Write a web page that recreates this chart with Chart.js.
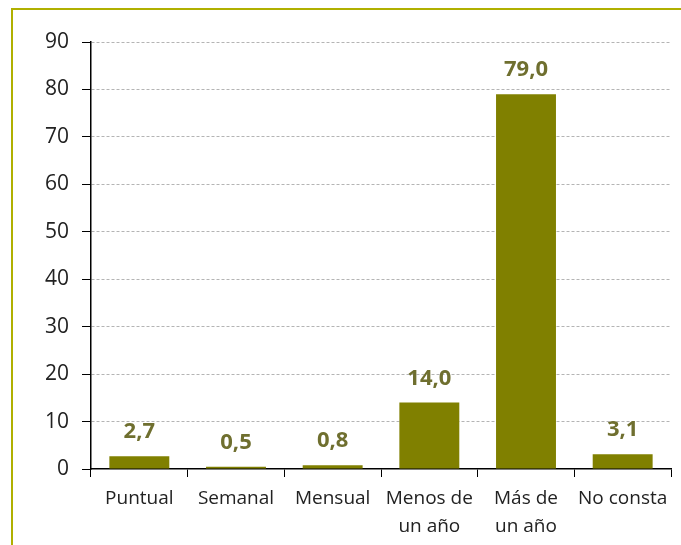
<!DOCTYPE html>
<html>
<head>
<meta charset="utf-8">
<script src="https://cdn.jsdelivr.net/npm/chart.js@4/dist/chart.umd.min.js"></script>
<style>
  html, body { margin: 0; padding: 0; background: #fff; }
  #wrap { position: relative; width: 681px; height: 545px; overflow: hidden; }
  #frame { position: absolute; left: 11px; top: 8px; width: 700px; height: 600px;
           border-top: 2px solid #b0b000; border-left: 2px solid #b0b000; }
  canvas { position: absolute; left: 0; top: 0; }
</style>
</head>
<body>
<div id="wrap">
  <div id="frame"></div>
  <canvas id="chart" width="681" height="545"></canvas>
</div>
<script>
  const categories = ["Puntual", "Semanal", "Mensual", ["Menos de", "un año"], ["Más de", "un año"], "No consta"];
  const values = [2.7, 0.5, 0.8, 14.0, 79.0, 3.1];
  const yTicks = [0, 10, 20, 30, 40, 50, 60, 70, 80, 90];

  const fontFamily = "'Open Sans', 'DejaVu Sans', sans-serif";

  // draw value labels above the bars
  const valueLabels = {
    id: "valueLabels",
    afterDatasetsDraw(chart) {
      const ctx = chart.ctx;
      const meta = chart.getDatasetMeta(0);
      ctx.save();
      ctx.fillStyle = "#6f6f2f";
      ctx.font = "bold 22px " + fontFamily;
      ctx.textAlign = "center";
      ctx.textBaseline = "alphabetic";
      meta.data.forEach((bar, i) => {
        ctx.fillText(values[i].toFixed(1).replace(".", ","), bar.x, bar.y - 18);
      });
      ctx.restore();
    }
  };

  new Chart(document.getElementById("chart").getContext("2d"), {
    type: "bar",
    data: {
      labels: categories,
      datasets: [{
        data: values,
        backgroundColor: "#808000",
        categoryPercentage: 1,
        barPercentage: 0.62,
      }],
    },
    options: {
      responsive: false,
      animation: false,
      layout: { padding: { top: 42, right: 10, left: 0, bottom: 0 } },
      plugins: { legend: { display: false }, tooltip: { enabled: false } },
      scales: {
        x: {
          afterFit: (s) => { s.height = 76; },
          grid: {
            offset: true,
            drawOnChartArea: false,
            tickLength: 8,
            tickColor: "#000",
          },
          border: { color: "#000", width: 1.5 },
          ticks: {
            color: "#222",
            font: { family: fontFamily, size: 19, lineHeight: 1.45 },
            padding: 8,
            maxRotation: 0,
            autoSkip: false,
          },
        },
        y: {
          min: 0,
          max: 90,
          afterFit: (s) => { s.width = 91; },
          afterBuildTicks: (s) => { s.ticks = yTicks.map((v) => ({ value: v })); },
          grid: {
            color: (c) => (c.tick && c.tick.value === 0 ? "rgba(0,0,0,0)" : "#b4b4b4"),
            lineWidth: 1,
            tickLength: 9,
            tickColor: "#000",
          },
          border: { color: "#000", width: 1.5, dash: [3, 2] },
          ticks: {
            color: "#222",
            font: { family: fontFamily, size: 21 },
            padding: 13,
          },
        },
      },
    },
    plugins: [valueLabels],
  });
</script>
</body>
</html>
